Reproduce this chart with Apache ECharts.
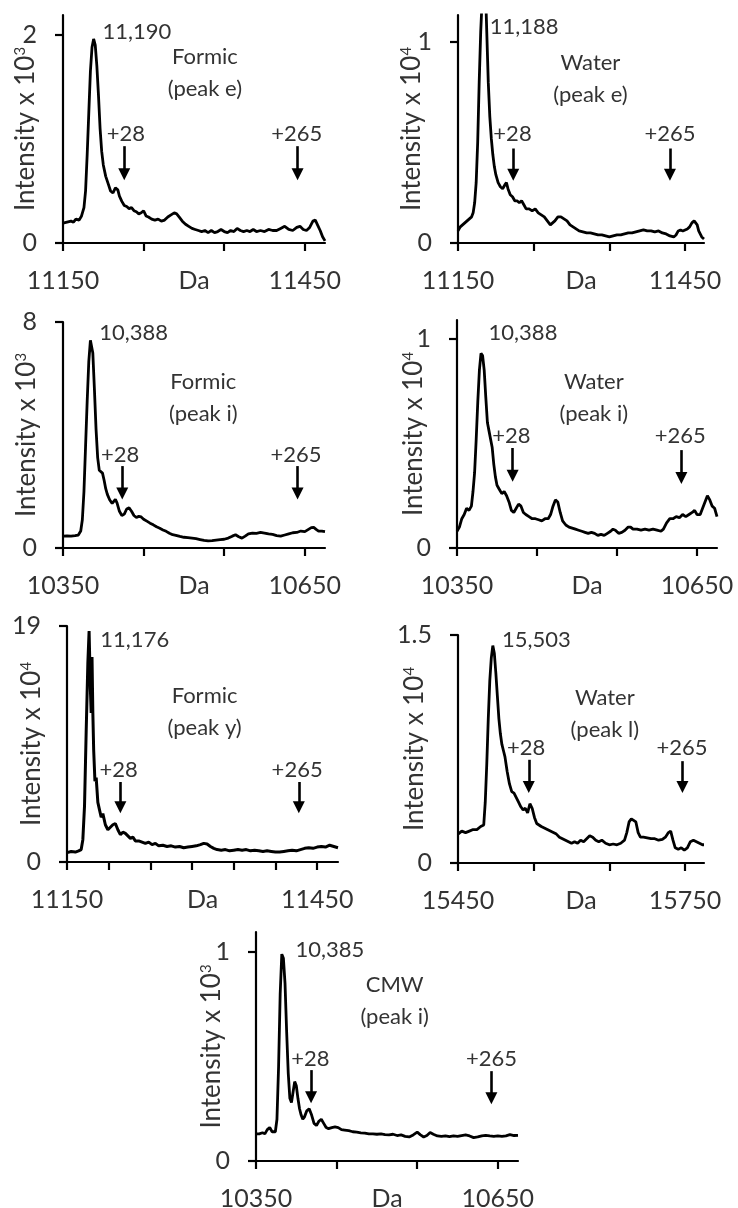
<!DOCTYPE html>
<html><head><meta charset="utf-8">
<script src="https://cdn.jsdelivr.net/npm/echarts@6/dist/echarts.min.js"></script>
<style>html,body{margin:0;padding:0;background:#fff}#c{width:738px;height:1208px}</style>
</head><body><div id="c"></div><script>
// ---------- DATA ----------
// Panel A: Formic (peak e), intensity x 10^3
const formicE_Da = [11150,11155,11160,11163,11166,11170,11173,11176,11178,11180,11182,11184,11186,11188,11190,11192,11194,11196,11198,11200,11203,11206,11209,11212,11215,11218,11220,11223,11226,11229,11232,11235,11238,11241,11244,11247,11250,11253,11256,11260,11264,11268,11272,11276,11280,11284,11288,11291,11294,11298,11302,11306,11310,11314,11318,11322,11326,11330,11334,11338,11342,11346,11350,11354,11358,11362,11366,11370,11374,11378,11382,11386,11390,11395,11400,11405,11410,11415,11420,11425,11430,11435,11440,11444,11448,11452,11456,11460,11463,11466,11469,11472,11475];
const formicE_I  = [0.19,0.2,0.21,0.2,0.23,0.22,0.26,0.34,0.5,0.85,1.25,1.65,1.88,1.96,1.9,1.7,1.42,1.1,0.88,0.75,0.64,0.57,0.5,0.48,0.53,0.51,0.45,0.4,0.36,0.35,0.33,0.34,0.31,0.3,0.28,0.29,0.31,0.26,0.25,0.23,0.22,0.23,0.21,0.22,0.25,0.27,0.29,0.28,0.25,0.21,0.18,0.16,0.14,0.13,0.12,0.11,0.12,0.1,0.12,0.1,0.11,0.13,0.11,0.1,0.12,0.11,0.14,0.12,0.11,0.12,0.11,0.13,0.11,0.12,0.11,0.13,0.12,0.12,0.14,0.16,0.13,0.12,0.15,0.16,0.13,0.12,0.15,0.21,0.22,0.17,0.12,0.06,0.02];

// Panel B: Water (peak e), intensity x 10^4
const waterE_Da = [11150,11153,11156,11159,11162,11165,11168,11170,11172,11174,11176,11178,11180,11182,11184,11186,11188,11190,11192,11194,11196,11198,11200,11203,11206,11209,11212,11214,11216,11219,11222,11225,11228,11231,11234,11237,11240,11244,11248,11252,11256,11260,11264,11268,11272,11275,11278,11282,11286,11290,11294,11298,11302,11306,11310,11315,11320,11325,11330,11335,11340,11345,11350,11355,11360,11365,11370,11375,11380,11385,11390,11395,11400,11405,11410,11415,11420,11425,11430,11435,11438,11441,11444,11447,11450,11453,11456,11459,11462,11464,11466,11468,11470,11472,11475];
const waterE_I  = [0.06,0.08,0.09,0.1,0.11,0.12,0.13,0.15,0.2,0.3,0.5,0.8,1.05,1.22,1.32,1.3,1.05,0.8,0.63,0.52,0.44,0.38,0.34,0.3,0.28,0.27,0.29,0.3,0.27,0.24,0.23,0.21,0.21,0.2,0.21,0.19,0.17,0.17,0.16,0.17,0.15,0.14,0.13,0.11,0.09,0.1,0.11,0.13,0.13,0.12,0.11,0.09,0.08,0.07,0.06,0.055,0.05,0.05,0.045,0.04,0.04,0.035,0.03,0.035,0.04,0.04,0.045,0.05,0.05,0.055,0.06,0.065,0.06,0.06,0.055,0.06,0.05,0.045,0.035,0.03,0.04,0.06,0.065,0.06,0.065,0.07,0.08,0.1,0.11,0.105,0.09,0.06,0.045,0.03,0.02];

// Panel C: Formic (peak i), intensity x 10^3
const formicI_Da = [10350,10355,10360,10365,10369,10372,10374,10376,10378,10380,10382,10384,10385,10387,10389,10391,10393,10395,10397,10399,10401,10403,10405,10408,10411,10413,10415,10417,10420,10423,10426,10429,10432,10435,10438,10441,10444,10447,10450,10454,10458,10462,10466,10470,10474,10478,10482,10486,10490,10495,10500,10505,10510,10515,10520,10525,10530,10535,10540,10545,10550,10555,10560,10564,10568,10572,10576,10580,10585,10590,10595,10600,10605,10610,10615,10620,10625,10630,10635,10640,10645,10650,10654,10658,10661,10664,10667,10671,10675];
const formicI_I  = [0.42,0.43,0.42,0.44,0.46,0.6,1.0,2.0,3.6,5.2,6.6,7.35,7.4,6.9,5.6,4.2,3.2,2.75,2.7,2.65,2.4,2.1,1.9,1.7,1.58,1.65,1.72,1.6,1.3,1.15,1.2,1.38,1.42,1.3,1.15,1.08,1.12,1.1,1.02,0.95,0.88,0.82,0.75,0.7,0.64,0.59,0.52,0.47,0.45,0.41,0.38,0.37,0.35,0.33,0.3,0.27,0.25,0.26,0.28,0.3,0.31,0.35,0.42,0.47,0.4,0.35,0.42,0.5,0.53,0.52,0.55,0.53,0.5,0.48,0.44,0.42,0.46,0.5,0.54,0.55,0.6,0.58,0.65,0.72,0.73,0.66,0.6,0.6,0.58];

// Panel D: Water (peak i), intensity x 10^4
const waterI_Da = [10350,10353,10356,10359,10362,10365,10368,10370,10372,10374,10376,10378,10380,10382,10384,10386,10388,10390,10392,10394,10396,10398,10400,10403,10406,10409,10412,10415,10418,10421,10424,10427,10430,10433,10436,10440,10444,10448,10452,10456,10460,10464,10467,10470,10473,10476,10479,10482,10486,10490,10494,10498,10502,10506,10510,10514,10518,10522,10526,10530,10534,10538,10542,10545,10548,10552,10556,10560,10564,10567,10570,10575,10580,10585,10590,10595,10600,10605,10608,10612,10616,10620,10624,10628,10632,10636,10640,10644,10647,10650,10654,10657,10660,10663,10666,10669,10672,10675];
const waterI_I  = [0.08,0.1,0.14,0.16,0.19,0.18,0.2,0.27,0.36,0.52,0.7,0.85,0.93,0.92,0.85,0.72,0.6,0.56,0.52,0.48,0.4,0.34,0.3,0.28,0.26,0.27,0.25,0.22,0.18,0.17,0.19,0.21,0.2,0.17,0.16,0.15,0.14,0.14,0.135,0.13,0.14,0.14,0.16,0.2,0.23,0.22,0.17,0.13,0.11,0.1,0.095,0.09,0.085,0.08,0.075,0.07,0.075,0.07,0.06,0.065,0.06,0.07,0.08,0.09,0.085,0.07,0.075,0.085,0.1,0.1,0.09,0.09,0.085,0.09,0.085,0.09,0.085,0.08,0.09,0.12,0.14,0.14,0.15,0.145,0.16,0.15,0.16,0.17,0.18,0.16,0.16,0.19,0.22,0.25,0.23,0.2,0.19,0.15];

// Panel E: Formic (peak y), intensity x 10^4
const formicY_Da = [11150,11155,11160,11164,11167,11169,11171,11173,11175,11176.5,11178,11179,11180,11181,11182,11183.5,11185,11187,11189,11191,11193,11196,11199,11202,11205,11208,11211,11214,11217,11220,11223,11226,11229,11232,11236,11240,11244,11248,11252,11256,11260,11265,11270,11275,11280,11285,11290,11295,11300,11305,11310,11314,11318,11322,11326,11330,11335,11340,11345,11350,11355,11360,11365,11370,11375,11380,11385,11390,11395,11400,11405,11410,11415,11420,11425,11430,11435,11440,11445,11450,11455,11460,11465,11470,11475];
const formicY_I  = [0.75,0.85,0.8,0.9,1.0,1.8,4.5,10.5,16,18.6,14,12,16.5,12,9,6.5,6.8,4.8,4.2,3.6,3.9,3.0,2.6,2.8,3.0,3.1,2.6,2.2,2.4,2.3,2.1,1.9,2.0,1.7,1.7,1.6,1.5,1.6,1.4,1.5,1.3,1.35,1.25,1.3,1.2,1.25,1.15,1.2,1.25,1.3,1.4,1.5,1.45,1.25,1.1,1.0,0.95,1.0,0.9,0.95,1.0,0.95,1.0,0.9,0.95,0.9,0.85,0.9,0.85,0.8,0.8,0.85,0.9,0.95,0.9,1.0,1.1,1.15,1.1,1.2,1.25,1.2,1.35,1.25,1.15];

// Panel F: Water (peak l), intensity x 10^4
const waterL_Da = [15450,15455,15460,15465,15470,15475,15480,15484,15486,15488,15490,15492,15494,15496,15498,15500,15502,15504,15506,15508,15510,15512,15515,15518,15521,15524,15527,15530,15533,15536,15539,15542,15545,15548,15551,15554,15557,15560,15564,15568,15572,15576,15580,15584,15588,15592,15596,15600,15604,15608,15612,15616,15620,15624,15628,15632,15636,15640,15645,15650,15655,15660,15665,15670,15673,15676,15679,15682,15685,15688,15691,15695,15700,15705,15710,15715,15720,15724,15728,15731,15734,15737,15741,15745,15749,15753,15757,15761,15765,15769,15773,15775];
const waterL_I  = [0.19,0.21,0.2,0.21,0.22,0.22,0.24,0.25,0.4,0.65,0.95,1.2,1.35,1.43,1.38,1.25,1.1,0.95,0.85,0.78,0.74,0.7,0.6,0.52,0.47,0.46,0.43,0.4,0.37,0.35,0.36,0.33,0.39,0.36,0.3,0.26,0.25,0.24,0.23,0.22,0.21,0.2,0.19,0.17,0.16,0.15,0.14,0.13,0.14,0.13,0.15,0.14,0.16,0.18,0.17,0.15,0.14,0.15,0.13,0.12,0.125,0.12,0.13,0.15,0.2,0.27,0.29,0.28,0.27,0.2,0.17,0.17,0.165,0.16,0.16,0.15,0.155,0.17,0.2,0.21,0.15,0.1,0.09,0.1,0.085,0.1,0.14,0.15,0.14,0.13,0.12,0.12];

// Panel G: CMW (peak i), intensity x 10^3
const cmwI_Da = [10350,10354,10358,10361,10364,10367,10370,10374,10376,10378,10380,10382,10384,10386,10388,10390,10392,10394,10396,10398,10400,10402,10404,10406,10408,10410,10413,10416,10419,10422,10425,10428,10431,10434,10437,10440,10444,10448,10452,10456,10460,10465,10470,10475,10480,10485,10490,10495,10500,10505,10510,10515,10520,10525,10530,10535,10540,10545,10550,10554,10558,10562,10566,10570,10575,10580,10585,10590,10595,10600,10605,10610,10615,10620,10625,10630,10635,10640,10645,10650,10655,10660,10665,10670,10675];
const cmwI_I  = [0.13,0.13,0.135,0.13,0.15,0.16,0.14,0.14,0.2,0.45,0.8,0.99,0.97,0.85,0.62,0.42,0.3,0.28,0.33,0.38,0.36,0.3,0.25,0.22,0.2,0.21,0.24,0.25,0.22,0.18,0.17,0.19,0.2,0.18,0.16,0.155,0.16,0.163,0.16,0.15,0.148,0.145,0.14,0.138,0.135,0.133,0.13,0.13,0.128,0.13,0.126,0.125,0.128,0.122,0.125,0.118,0.115,0.125,0.138,0.125,0.115,0.122,0.136,0.128,0.12,0.118,0.12,0.117,0.12,0.118,0.122,0.125,0.12,0.112,0.115,0.12,0.123,0.12,0.118,0.12,0.118,0.12,0.126,0.122,0.123];

// Text labels
const peakLabels = ['11,190','11,188','10,388','10,388','11,176','15,503','10,385'];
const conditionLabels = ['Formic\n(peak e)','Water\n(peak e)','Formic\n(peak i)','Water\n(peak i)','Formic\n(peak y)','Water\n(peak l)','CMW\n(peak i)'];
const yExponents = ['3','4','3','4','4','4','3'];
const shiftLabels = ['+28','+265'];
const xAxisName = 'Da';

// ---------- LAYOUT ----------
const FONT = 'Lato, "Open Sans", sans-serif';
const TXT = '#333333';
const panels = [
  {x: formicE_Da, y: formicE_I, grid:{left:63, top:15, width:262, height:228}, xr:[11150,11475], xt:[11150,11250,11350,11450], yMax:2.19, yt:[0,2], gap:24,
   peak:[11199,2.03], cond:[11326,1.63], a28:[11226,0.93,0.66], a265:[11441,0.93,0.66], t28:[11228,1.05], t265:[11440,1.05]},
  {x: waterE_Da, y: waterE_I, grid:{left:458, top:15, width:246, height:228}, xr:[11150,11475], xt:[11150,11250,11350,11450], yMax:1.134, yt:[0,1], gap:33,
   peak:[11192,1.075], cond:[11325,0.815], a28:[11223,0.47,0.34], a265:[11430,0.47,0.34], t28:[11222,0.545], t265:[11430,0.545]},
  {x: formicI_Da, y: formicI_I, grid:{left:63, top:322, width:262, height:226}, xr:[10350,10675], xt:[10350,10450,10550,10650], yMax:8, yt:[0,8], gap:23,
   peak:[10395,7.62], cond:[10524,5.3], a28:[10423.5,2.9,1.93], a265:[10641,2.9,1.93], t28:[10421,3.31], t265:[10639,3.31]},
  {x: waterI_Da, y: waterI_I, grid:{left:457, top:320, width:260, height:228}, xr:[10350,10675], xt:[10350,10450,10550,10650], yMax:1.09, yt:[0,1], gap:30,
   peak:[10389.5,1.029], cond:[10521,0.718], a28:[10419.5,0.478,0.345], a265:[10630.5,0.468,0.335], t28:[10418,0.534], t265:[10629,0.534]},
  {x: formicY_Da, y: formicY_I, grid:{left:67, top:626, width:271, height:236}, xr:[11150,11475], xt:[11150,11200,11250,11300,11350,11400,11450], yMax:19, yt:[0,19], gap:22,
   peak:[11190,17.85], cond:[11315,12.1], a28:[11214,6.44,4.4], a265:[11428,6.44,4.4], t28:[11212,7.38], t265:[11426,7.38]},
  {x: waterL_Da, y: waterL_I, grid:{left:458, top:635, width:246, height:228}, xr:[15450,15775], xt:[15450,15550,15650,15750], yMax:1.5, yt:[0,1.5], gap:30,
   peak:[15508,1.467], cond:[15644,0.98], a28:[15543.5,0.679,0.5], a265:[15746.5,0.67,0.5], t28:[15540,0.755], t265:[15746,0.755]},
  {x: cmwI_Da, y: cmwI_I, grid:{left:256, top:932, width:262, height:229}, xr:[10350,10675], xt:[10350,10450,10550,10650], yMax:1.096, yt:[0,1], gap:31,
   peak:[10399,1.011], cond:[10522,0.765], a28:[10418.3,0.435,0.305], a265:[10642,0.43,0.3], t28:[10417.5,0.491], t265:[10642,0.491]}
];

const grids = [], xAxes = [], yAxes = [], series = [];
panels.forEach((p, i) => {
  grids.push(Object.assign({outerBoundsMode:'none', containLabel:false}, p.grid));
  const xLabelVals = [p.xt[0], p.xt[p.xt.length - 1]];
  xAxes.push({
    type:'value', gridIndex:i, min:p.xr[0], max:p.xr[1],
    name: xAxisName, nameLocation:'middle', nameGap:25, nameMoveOverlap:false,
    nameTextStyle:{fontFamily:FONT, fontSize:25, color:TXT, verticalAlign:'top'},
    axisLine:{show:true, onZero:false, lineStyle:{color:'#000', width:2.2}},
    axisTick:{show:true, inside:false, length:8, customValues:p.xt, lineStyle:{color:'#000', width:2.2}},
    axisLabel:{show:true, margin:25, customValues:xLabelVals, fontFamily:FONT, fontSize:25, color:TXT, formatter: v => String(v)},
    splitLine:{show:false}
  });
  yAxes.push({
    type:'value', gridIndex:i, min:0, max:p.yMax,
    name:'Intensity x 10{s|' + yExponents[i] + '}', nameLocation:'middle', nameGap:p.gap, nameRotate:90, nameMoveOverlap:false,
    nameTextStyle:{fontFamily:FONT, fontSize:26, color:TXT, rich:{s:{fontFamily:FONT, fontSize:15, color:TXT, verticalAlign:'top', lineHeight:26}}},
    axisLine:{show:true, onZero:false, lineStyle:{color:'#000', width:2.2}},
    axisTick:{show:true, inside:false, length:8, customValues:p.yt, lineStyle:{color:'#000', width:2.2}},
    axisLabel:{show:true, margin:26, customValues:p.yt, fontFamily:FONT, fontSize:25, color:TXT, formatter: v => String(v)},
    splitLine:{show:false}
  });
  const txt = (coord, text, align, lh) => ({
    coord: coord, value: text, symbol:'circle', symbolSize:1, itemStyle:{color:'rgba(0,0,0,0)'},
    label:{show:true, position:'inside', formatter:text, align:align, verticalAlign:'middle', fontFamily:FONT, fontSize:22, color:TXT, lineHeight:lh || 22}
  });
  series.push({
    type:'line', xAxisIndex:i, yAxisIndex:i,
    data: p.x.map((d, k) => [d, p.y[k]]),
    showSymbol:false, symbol:'none', smooth:false, clip:true,
    lineStyle:{color:'#000', width: i === 4 ? 3 : 2.8},
    silent:true,
    markPoint:{
      silent:true, animation:false,
      data:[
        txt(p.peak, peakLabels[i], 'left'),
        txt(p.cond, conditionLabels[i], 'center', 32),
        txt(p.t28, shiftLabels[0], 'center'),
        txt(p.t265, shiftLabels[1], 'center')
      ]
    },
    markLine:{
      silent:true, animation:false, symbol:['none','triangle'], symbolSize:[12,12],
      label:{show:false},
      lineStyle:{color:'#000', width:2.6, type:'solid'},
      emphasis:{disabled:true},
      data:[
        [{coord:[p.a28[0], p.a28[1]]}, {coord:[p.a28[0], p.a28[2]]}],
        [{coord:[p.a265[0], p.a265[1]]}, {coord:[p.a265[0], p.a265[2]]}]
      ]
    }
  });
});

const chart = echarts.init(document.getElementById('c'), null, {renderer:'canvas'});
chart.setOption({
  animation:false,
  backgroundColor:'#fff',
  grid:grids, xAxis:xAxes, yAxis:yAxes, series:series
});
</script></body></html>
